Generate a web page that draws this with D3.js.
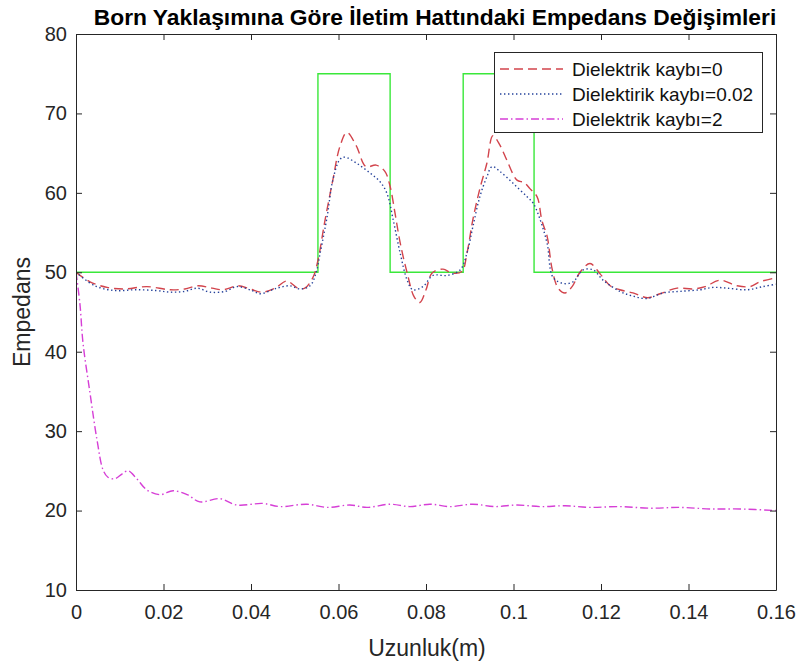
<!DOCTYPE html>
<html>
<head>
<meta charset="utf-8">
<script src="https://cdn.jsdelivr.net/npm/d3@7"></script>
<style>
  html, body { margin: 0; padding: 0; background: #fff; }
  svg { display: block; font-family: "Liberation Sans", Arial, Helvetica, sans-serif; }
</style>
</head>
<body>
<svg id="chart" width="803" height="662"></svg>
<script>
// Step profile of the line impedance (reference)
const stepX = [0, 0.0553, 0.0718, 0.0885, 0.1047, 0.16];
const stepY = [50, 75, 50, 75, 50, 50];

// Reconstructed impedance, dielectric loss = 0
const lossless = [
  [0, 50], [0.0032, 48.8], [0.0071, 48.1], [0.0112, 47.9], [0.0162, 48.2], [0.0215, 47.8],
  [0.0249, 47.9], [0.0279, 48.3], [0.0311, 48.0], [0.0336, 47.8], [0.037, 48.3], [0.0398, 47.9],
  [0.0425, 47.5], [0.0455, 48.0], [0.0482, 48.9], [0.0507, 48.0], [0.0523, 48.0], [0.0542, 49.4],
  [0.0553, 51.5], [0.0569, 56.5], [0.0587, 61.6], [0.0603, 65.8], [0.0619, 67.6], [0.064, 66.0],
  [0.0663, 63.3], [0.0686, 63.5], [0.0706, 62.7], [0.0718, 60.8], [0.0729, 57.5], [0.0741, 53.7],
  [0.0757, 49.9], [0.0773, 46.9], [0.0786, 46.2], [0.08, 47.8], [0.0814, 49.9], [0.0839, 50.4],
  [0.0859, 49.9], [0.0882, 50.1], [0.0894, 52.5], [0.0907, 56.6], [0.0923, 60.5], [0.0939, 63.7],
  [0.0953, 67.2], [0.0969, 66.0], [0.0985, 64.1], [0.1008, 61.6], [0.1024, 61.3], [0.1038, 60.5],
  [0.1054, 59.5], [0.1065, 56.5], [0.1077, 54.5], [0.1088, 50.5], [0.1102, 48.0], [0.1118, 47.4],
  [0.1134, 48.2], [0.1152, 50.0], [0.1175, 51.1], [0.1198, 49.8], [0.1221, 48.3], [0.1243, 47.8],
  [0.1273, 47.4], [0.1307, 46.8], [0.1335, 47.3], [0.1374, 48.0], [0.141, 47.9], [0.1438, 48.2],
  [0.1472, 49.0], [0.1511, 48.3], [0.1541, 48.2], [0.1563, 48.8], [0.16, 49.3]
];

// Reconstructed impedance, dielectric loss = 0.02
const lowLoss = [
  [0, 50], [0.0043, 48.3], [0.0089, 47.7], [0.0135, 47.8], [0.0183, 47.7], [0.0215, 47.5],
  [0.0249, 47.6], [0.0277, 48.0], [0.0306, 47.5], [0.0341, 47.6], [0.0368, 48.2], [0.0402, 47.7],
  [0.0421, 47.3], [0.0459, 48.0], [0.0489, 48.3], [0.0512, 47.9], [0.0535, 48.3], [0.0549, 50.0],
  [0.0558, 52.4], [0.0574, 57.0], [0.0587, 61.6], [0.0603, 64.2], [0.0614, 64.5], [0.0642, 63.7],
  [0.0672, 62.5], [0.0695, 61.4], [0.0711, 59.9], [0.0725, 56.6], [0.0741, 52.4], [0.0757, 49.0],
  [0.077, 47.8], [0.0793, 48.2], [0.0816, 49.6], [0.0848, 49.6], [0.0878, 50.3], [0.0894, 52.5],
  [0.0907, 55.7], [0.0923, 59.5], [0.0939, 62.0], [0.0951, 63.3], [0.0969, 62.7], [0.0999, 61.2],
  [0.1031, 59.5], [0.1045, 58.7], [0.1061, 56.6], [0.1077, 53.6], [0.109, 49.4], [0.1113, 48.6],
  [0.1136, 48.8], [0.1159, 50.3], [0.1182, 50.3], [0.1205, 49.0], [0.1243, 47.6], [0.1273, 47.0],
  [0.1305, 46.7], [0.1342, 47.4], [0.1381, 47.6], [0.1426, 47.8], [0.1456, 48.1], [0.1488, 48.0],
  [0.1534, 47.8], [0.157, 48.2], [0.16, 48.5]
];

// Reconstructed impedance, dielectric loss = 2
const highLoss = [
  [0, 50], [0.0009, 46], [0.0016, 41.1], [0.0032, 34.8], [0.0048, 28.9], [0.0062, 25.1],
  [0.0073, 24.2], [0.0089, 24.0], [0.0105, 24.6], [0.0119, 25.0], [0.0139, 24.0], [0.0162, 22.6],
  [0.0192, 22.0], [0.0222, 22.5], [0.0254, 22.0], [0.0283, 21.1], [0.0329, 21.5], [0.0368, 20.7],
  [0.0427, 20.9], [0.0466, 20.5], [0.0528, 20.8], [0.0574, 20.4], [0.0626, 20.7], [0.0665, 20.4],
  [0.0718, 20.8], [0.0763, 20.5], [0.0809, 20.8], [0.0855, 20.5], [0.0907, 20.8], [0.0958, 20.5],
  [0.1008, 20.7], [0.1061, 20.5], [0.1118, 20.6], [0.1175, 20.4], [0.1243, 20.5], [0.1312, 20.3],
  [0.1381, 20.4], [0.1449, 20.2], [0.1518, 20.2], [0.16, 20.0]
];

const xTicks = [0, 0.02, 0.04, 0.06, 0.08, 0.1, 0.12, 0.14, 0.16];
const yTicks = [10, 20, 30, 40, 50, 60, 70, 80];
const legendLabels = ["Dielektrik kaybı=0", "Dielektirik kaybı=0.02", "Dielektrik kaybı=2"];

const svg = d3.select("#chart");
const margin = { left: 76, top: 34, width: 700, height: 556 };
const axisColor = "#262626";

const x = d3.scaleLinear().domain([0, 0.16]).range([margin.left, margin.left + margin.width]);
const y = d3.scaleLinear().domain([10, 80]).range([margin.top + margin.height, margin.top]);

svg.append("clipPath").attr("id", "plotclip")
  .append("rect").attr("x", margin.left).attr("y", margin.top)
  .attr("width", margin.width).attr("height", margin.height);

const plot = svg.append("g").attr("clip-path", "url(#plotclip)");

const stepLine = d3.line().x(d => x(d[0])).y(d => y(d[1])).curve(d3.curveStepAfter);
plot.append("path")
  .datum(stepX.map((v, i) => [v, stepY[i]]))
  .attr("d", stepLine)
  .attr("fill", "none").attr("stroke", "#3ae83a").attr("stroke-width", 1.4);

const smooth = d3.line().x(d => x(d[0])).y(d => y(d[1])).curve(d3.curveCatmullRom.alpha(0.5));

const series = [
  { data: lossless, color: "#d2444c", dash: "9,5" },
  { data: lowLoss, color: "#24419a", dash: "1.4,2.6" },
  { data: highLoss, color: "#d63fd6", dash: "8,3,1.5,3" }
];

series.forEach(s => {
  plot.append("path").datum(s.data).attr("d", smooth)
    .attr("fill", "none").attr("stroke", s.color)
    .attr("stroke-width", 1.4).attr("stroke-dasharray", s.dash);
});

// Axes: box with inward ticks on all four sides
const tickLen = 6;
const axBottom = svg.append("g").attr("transform", `translate(0,${margin.top + margin.height})`)
  .call(d3.axisBottom(x).tickValues(xTicks).tickSizeInner(-tickLen).tickSizeOuter(0)
    .tickPadding(15).tickFormat(d3.format("~g")));
const axTop = svg.append("g").attr("transform", `translate(0,${margin.top})`)
  .call(d3.axisTop(x).tickValues(xTicks).tickSizeInner(-tickLen).tickSizeOuter(0).tickFormat(""));
const axLeft = svg.append("g").attr("transform", `translate(${margin.left},0)`)
  .call(d3.axisLeft(y).tickValues(yTicks).tickSizeInner(-tickLen).tickSizeOuter(0).tickPadding(9));
const axRight = svg.append("g").attr("transform", `translate(${margin.left + margin.width},0)`)
  .call(d3.axisRight(y).tickValues(yTicks).tickSizeInner(-tickLen).tickSizeOuter(0).tickFormat(""));

[axBottom, axTop, axLeft, axRight].forEach(g => {
  g.selectAll("path, line").attr("stroke", axisColor).attr("stroke-width", 1);
  g.selectAll("text").attr("fill", axisColor).style("font-size", "20px")
    .style("font-family", "'Liberation Sans', Arial, sans-serif");
});

// Title and axis labels
svg.append("text").attr("x", 435).attr("y", 25).attr("text-anchor", "middle")
  .style("font-weight", "bold").style("font-size", "22.8px").attr("fill", "#000")
  .text("Born Yaklaşımına Göre İletim Hattındaki Empedans Değişimleri");

svg.append("text").attr("x", margin.left + margin.width / 2 + 1).attr("y", 656)
  .attr("text-anchor", "middle").style("font-size", "23px").attr("fill", axisColor)
  .text("Uzunluk(m)");

svg.append("text")
  .attr("transform", `translate(30,${margin.top + margin.height / 2}) rotate(-90)`)
  .attr("text-anchor", "middle").style("font-size", "23px").attr("fill", axisColor)
  .text("Empedans");

// Legend
const lg = svg.append("g");
lg.append("rect").attr("x", 494.5).attr("y", 52.5).attr("width", 268).attr("height", 80)
  .attr("fill", "#fff").attr("stroke", axisColor).attr("stroke-width", 1);
series.forEach((s, i) => {
  const yy = 69 + i * 25;
  lg.append("line").attr("x1", 500).attr("x2", 563).attr("y1", yy).attr("y2", yy)
    .attr("stroke", s.color).attr("stroke-width", 1.4).attr("stroke-dasharray", s.dash);
  lg.append("text").attr("x", 572).attr("y", yy).attr("dy", "0.36em")
    .style("font-size", "19px").attr("fill", "#111").text(legendLabels[i]);
});
</script>
</body>
</html>
